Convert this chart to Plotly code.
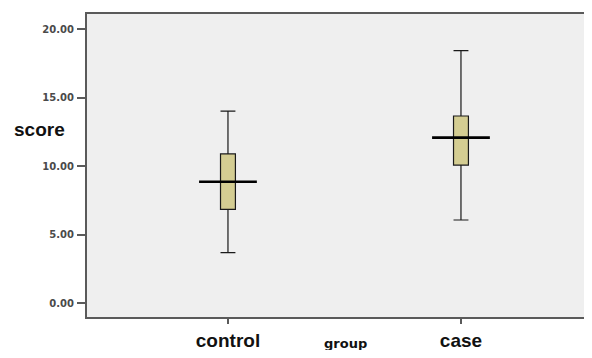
import plotly.graph_objects as go

groups = ["control", "case"]
group_pos = [0, 1]
q1 = [6.84, 10.07]
median = [8.85, 12.07]
q3 = [10.88, 13.65]
lower = [3.67, 6.06]
upper = [14.0, 18.42]

y_ticks = [0, 5, 10, 15, 20]
y_ticktext = ["0.00", "5.00", "10.00", "15.00", "20.00"]

# figure is 576x342 (page body adds an 8px margin on every side)
W, H = 576, 342
L, T, B = 79, 6, 33
PW, PH = W - L, H - T - B

fig = go.Figure()
fig.add_trace(go.Box(
    x=group_pos, q1=q1, median=median, q3=q3,
    lowerfence=lower, upperfence=upper,
    width=0.064, whiskerwidth=1,
    fillcolor="#d4cd92", line=dict(color="#1a1a1a", width=1.2),
    showlegend=False, hoverinfo="skip",
))
half = 0.124
for p, m in zip(group_pos, median):
    fig.add_trace(go.Scatter(
        x=[p - half, p + half], y=[m, m], mode="lines",
        line=dict(color="#000000", width=2.6),
        showlegend=False, hoverinfo="skip",
    ))

big_font = "Liberation Sans, Arial"

fig.update_layout(
    width=W, height=H,
    margin=dict(l=L, r=0, t=T, b=B, autoexpand=False),
    paper_bgcolor="white", plot_bgcolor="#efefef",
    xaxis=dict(
        range=[-0.605, 1.528], tickvals=group_pos,
        ticktext=["<b>" + g + "</b>" for g in groups],
        showgrid=False, zeroline=False,
        showline=True, linecolor="#5a5a5a", linewidth=2, mirror=True,
        ticks="outside", ticklen=5, tickcolor="#5a5a5a", tickwidth=1.5,
        ticklabelstandoff=0,
        tickfont=dict(family=big_font, size=19, color="#111"),
    ),
    yaxis=dict(
        range=[-1.022, 21.095], tickvals=y_ticks,
        ticktext=["<b>" + t + "</b>" for t in y_ticktext],
        showgrid=False, zeroline=False,
        showline=True, linecolor="#5a5a5a", linewidth=2,
        ticks="outside", ticklen=8, tickcolor="#5a5a5a", tickwidth=1.5,
        ticklabelstandoff=1,
        tickfont=dict(family="DejaVu Sans", size=10, color="#4a4a4a"),
    ),
    annotations=[
        dict(text="<b>score</b>", xref="paper", yref="paper",
             x=(31 - L) / PW, y=(PH + T - 122) / PH, showarrow=False,
             xanchor="center", yanchor="middle",
             font=dict(family=big_font, size=19, color="#111")),
        dict(text="<b>group</b>", xref="paper", yref="paper",
             x=(337 - L) / PW, y=(PH + T - 335) / PH, showarrow=False,
             xanchor="center", yanchor="middle",
             font=dict(family="DejaVu Sans", size=13, color="#111")),
    ],
)

fig.write_html("out.html")
